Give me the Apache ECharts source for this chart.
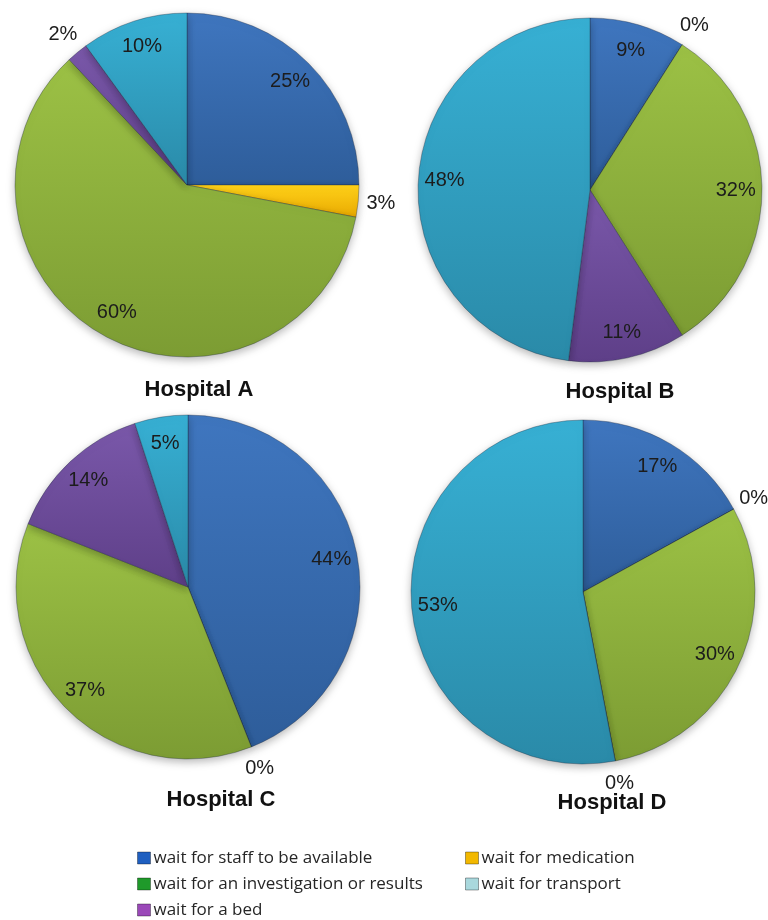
<!DOCTYPE html>
<html>
<head>
<meta charset="utf-8">
<script src="https://cdn.jsdelivr.net/npm/echarts@6/dist/echarts.min.js"></script>
<style>
html,body{margin:0;padding:0;background:#ffffff;}
#chart{width:768px;height:920px;}
</style>
</head>
<body>
<div id="chart"></div>
<script>
// ---- data ----
const categories = [
  'wait for staff to be available',
  'wait for medication',
  'wait for an investigation or results',
  'wait for a bed',
  'wait for transport'
];
const hospitals = ['Hospital A', 'Hospital B', 'Hospital C', 'Hospital D'];
const hospitalA = [25, 3, 60, 2, 10];
const hospitalB = [9, 0, 32, 11, 48];
const hospitalC = [44, 0, 37, 14, 5];
const hospitalD = [17, 0, 30, 0, 53];
const hospitalValues = [hospitalA, hospitalB, hospitalC, hospitalD];

// legend columns (indices into categories)
const legendLeftCol = [0, 2, 3];
const legendRightCol = [1, 4];

// ---- style ----
const sliceTop    = ['#3f76bf', '#ffd21a', '#9cc145', '#7a58aa', '#37b0d4'];
const sliceBottom = ['#2e5d9a', '#e9a900', '#7c9c33', '#5e3f88', '#2a8aa8'];
const legendColors = ['#1f5fc0', '#f2b800', '#1f9a2a', '#9a48b8', '#a9d8dd'];
const centers = [[187, 185], [590, 190], [188, 587], [583, 592]];
const R = 172;
const titlePos = [[194, 374], [615, 376], [216, 784], [607, 787]];
const SMALL_MAX = 3; // slices with value <= this get outside labels

const chart = echarts.init(document.getElementById('chart'), null, {renderer: 'canvas'});

function grad(i) {
  return new echarts.graphic.LinearGradient(0, 0, 0, 1, [
    {offset: 0, color: sliceTop[i]},
    {offset: 1, color: sliceBottom[i]}
  ]);
}

const labelFont = {color: '#1c1c1c', fontSize: 20, fontFamily: 'Liberation Sans, Arial, sans-serif'};

const series = [];
hospitalValues.forEach((vals, h) => {
  // visible pie
  series.push({
    type: 'pie',
    name: hospitals[h],
    center: centers[h],
    radius: [0, R],
    startAngle: 90,
    clockwise: true,
    silent: true,
    label: {show: false},
    labelLine: {show: false},
    emphasis: {disabled: true},
    itemStyle: {
      borderColor: 'rgba(30,40,60,0.35)',
      borderWidth: 1,
      shadowBlur: 8,
      shadowOffsetY: 3,
      shadowColor: 'rgba(0,0,0,0.28)'
    },
    data: categories.map((c, i) => ({
      name: c, value: vals[i], itemStyle: {color: grad(i)}
    }))
  });
  // inner label ring (transparent)
  series.push({
    type: 'pie',
    name: hospitals[h] + ' labels',
    center: centers[h],
    radius: [R * 0.66, R],
    startAngle: 90,
    clockwise: true,
    silent: true,
    z: 5,
    emphasis: {disabled: true},
    itemStyle: {color: 'rgba(0,0,0,0)'},
    labelLine: {show: false},
    label: Object.assign({position: 'inside', formatter: '{c}%'}, labelFont),
    data: categories.map((c, i) => ({
      name: c, value: vals[i],
      label: {show: vals[i] > SMALL_MAX}
    }))
  });
  // outer label ring (transparent)
  series.push({
    type: 'pie',
    name: hospitals[h] + ' outer labels',
    center: centers[h],
    radius: [R, R * 1.23],
    startAngle: 90,
    clockwise: true,
    silent: true,
    z: 5,
    emphasis: {disabled: true},
    itemStyle: {color: 'rgba(0,0,0,0)'},
    labelLine: {show: false},
    label: Object.assign({position: 'inside', formatter: '{c}%'}, labelFont),
    data: categories.map((c, i) => ({
      name: c, value: vals[i],
      label: {show: vals[i] <= SMALL_MAX}
    }))
  });
});

function legendData(cols) {
  return cols.map(i => ({
    name: categories[i],
    icon: 'rect',
    itemStyle: {color: legendColors[i], borderColor: 'rgba(0,0,0,0.35)', borderWidth: 1}
  }));
}
const legendCommon = {
  orient: 'vertical',
  top: 848,
  height: 80,
  padding: 0,
  itemWidth: 13,
  itemHeight: 12,
  itemGap: 6,
  selectedMode: false,
  textStyle: {fontSize: 17, color: '#262626', fontFamily: 'Open Sans, sans-serif', lineHeight: 20, padding: [0, 0, 0, -2]}
};

const option = {
  backgroundColor: '#ffffff',
  animation: false,
  title: hospitals.map((t, h) => ({
    text: t,
    left: titlePos[h][0],
    top: titlePos[h][1],
    textAlign: 'center',
    textStyle: {fontSize: 22, fontWeight: 'bold', color: '#111', fontFamily: 'Liberation Sans, Arial, sans-serif'}
  })),
  legend: [
    Object.assign({}, legendCommon, {left: 137, data: legendData(legendLeftCol)}),
    Object.assign({}, legendCommon, {left: 465, data: legendData(legendRightCol)})
  ],
  series: series
};
chart.setOption(option);
</script>
</body>
</html>
